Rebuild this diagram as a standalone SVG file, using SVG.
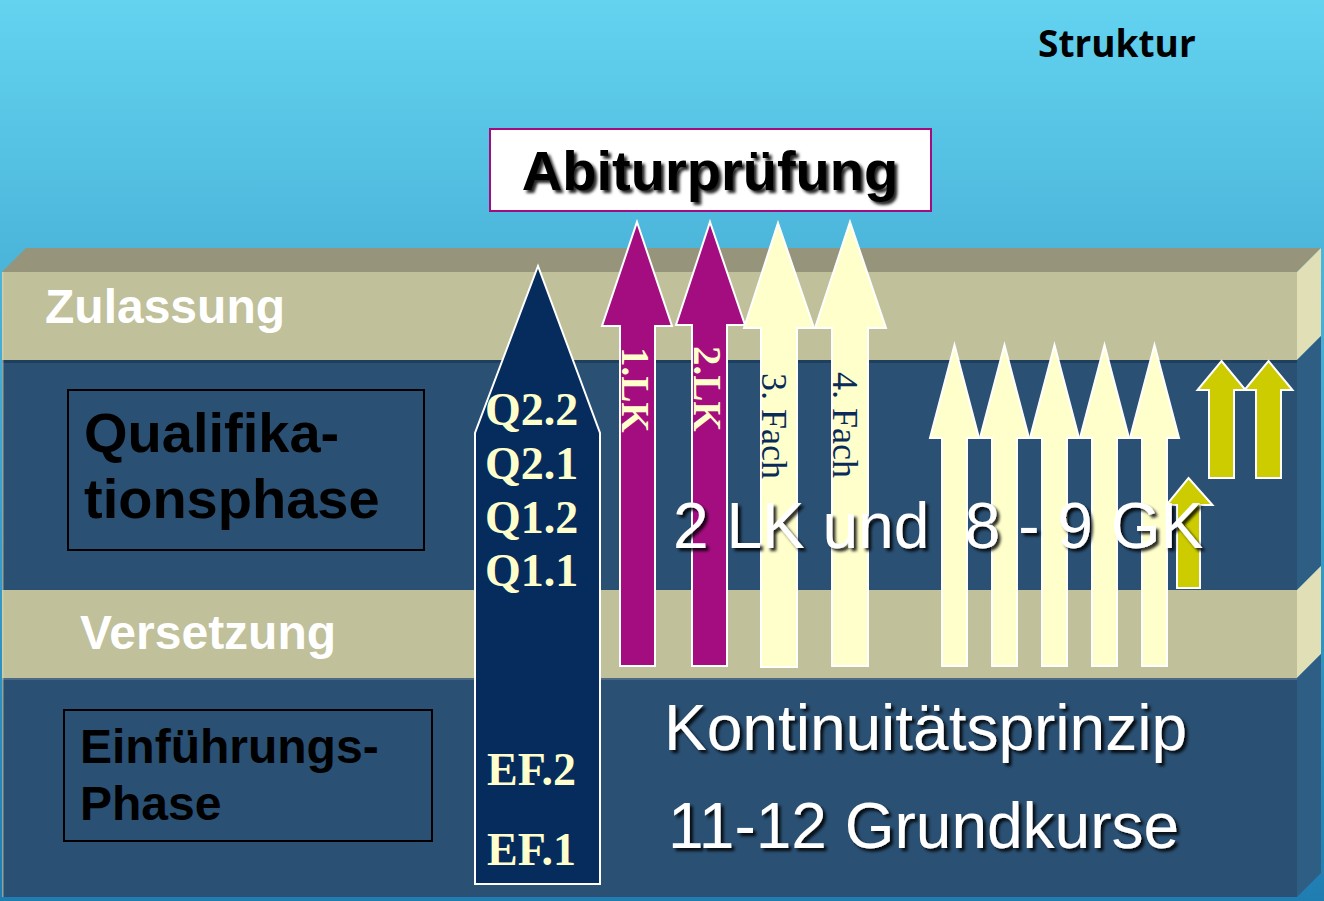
<svg xmlns="http://www.w3.org/2000/svg" width="1324" height="901" viewBox="0 0 1324 901">
<defs>
<linearGradient id="sky" x1="0" y1="0" x2="0" y2="1">
<stop offset="0" stop-color="#63d3f0"/>
<stop offset="0.3" stop-color="#4bb4d9"/>
<stop offset="1" stop-color="#1f7db2"/>
</linearGradient>
<filter id="shadow" x="-10%" y="-20%" width="120%" height="150%">
<feDropShadow dx="3" dy="3" stdDeviation="1.5" flood-color="#000" flood-opacity="0.85"/>
</filter>
<style>
.band{fill:#c0c09a}
.blue{fill:#2a5073}
.sideK{fill:#e0dfb5}
.sideB{fill:#2f5e84}
.box{fill:none;stroke:#000;stroke-width:2}
.lbl{font-family:"Liberation Sans",Arial,sans-serif;font-weight:bold}
.big{font-family:"Liberation Sans",Arial,sans-serif;fill:#fff;font-size:64px;filter:url(#shadow);white-space:pre}
.tm{font-family:"Liberation Serif","Times New Roman",serif}
.arr{stroke:#fff;stroke-width:2;stroke-linejoin:miter}
.lk{fill:#a30d80}
.ly{fill:#ffffcc}
.yg{fill:#cccc00}
.q{font-family:"Liberation Serif","Times New Roman",serif;font-weight:bold;font-size:46px;fill:#ffffcc}
</style>
</defs>
<rect width="1324" height="901" fill="url(#sky)"/>

<g id="slab">
<polygon points="2,272 26,248 1321,248 1297,272" fill="#96947a"/>
<rect x="2" y="272" width="1295" height="88" class="band"/>
<rect x="2" y="360" width="1295" height="230" class="blue"/>
<rect x="2" y="360" width="1295" height="3" fill="#1f3f5e"/>
<rect x="2" y="590" width="1295" height="88" class="band"/>
<rect x="2" y="678" width="1295" height="219" class="blue"/>
<rect x="2" y="678" width="1295" height="2" fill="#4b6a85"/>
<polygon points="1297,272 1321,248 1321,336 1297,360" class="sideK"/>
<polygon points="1297,360 1321,336 1321,566 1297,590" class="sideB"/>
<polygon points="1297,590 1321,566 1321,654 1297,678" class="sideK"/>
<polygon points="1297,678 1321,654 1321,873 1297,897" class="sideB"/>
<rect x="2" y="272" width="1.5" height="625" fill="#d8d8b8" opacity="0.6"/>
</g>

<g id="title">
<text x="1038" y="57" font-family="'Open Sans','Noto Sans',sans-serif" font-weight="bold" font-size="37" fill="#000">Struktur</text>
</g>

<g id="abitur">
<rect x="490" y="129" width="441" height="82" fill="#fff" stroke="#a30d80" stroke-width="2"/>
<text x="710" y="190" text-anchor="middle" class="lbl" font-size="56" fill="#000" filter="url(#shadow)">Abiturprüfung</text>
</g>

<g id="zulassung">
<text x="45" y="323" class="lbl" font-size="48" fill="#fff">Zulassung</text>
</g>
<g id="versetzung">
<text x="80" y="649" class="lbl" font-size="48" fill="#fff">Versetzung</text>
</g>

<g id="qualifikation">
<rect x="68" y="390" width="356" height="160" class="box"/>
<text class="lbl" font-size="56" fill="#000"><tspan x="84" y="452">Qualifika-</tspan><tspan x="84" y="518">tionsphase</tspan></text>
</g>

<g id="einfuehrung">
<rect x="64" y="710" width="368" height="131" class="box"/>
<text class="lbl" font-size="48" fill="#000"><tspan x="80" y="763">Einführungs-</tspan><tspan x="80" y="820">Phase</tspan></text>
</g>

<g id="connectors">
<g id="navy-arrow">
<polygon points="538,266 600,433 600,884 475,884 475,433" fill="#052c5c" class="arr"/>
<text class="q"><tspan x="485" y="425">Q2.2</tspan><tspan x="485" y="479">Q2.1</tspan><tspan x="485" y="533">Q1.2</tspan><tspan x="485" y="586">Q1.1</tspan><tspan x="487" y="785">EF.2</tspan><tspan x="487" y="865">EF.1</tspan></text>
</g>
<g id="lk1">
<polygon points="637,222 672,326 655,326 655,666 620,666 620,326 602,326" class="arr lk"/>
<text transform="translate(622,347) rotate(90)" class="tm" font-weight="bold" font-size="39" fill="#ffffcc">1.LK</text>
</g>
<g id="lk2">
<polygon points="710,222 745,325 727,325 727,666 692,666 692,325 676,325" class="arr lk"/>
<text transform="translate(694,346) rotate(90)" class="tm" font-weight="bold" font-size="39" fill="#ffffcc">2.LK</text>
</g>
<g id="fach3">
<polygon points="778,223 814,328 797,328 797,667 761,667 761,328 744,328" class="arr ly"/>
<text transform="translate(762,373) rotate(90)" class="tm" font-size="36" fill="#0a2a5a">3. Fach</text>
</g>
<g id="fach4">
<polygon points="850,222 886,328 868,328 868,666 832,666 832,328 815,328" class="arr ly"/>
<text transform="translate(833,372) rotate(90)" class="tm" font-size="36" fill="#0a2a5a">4. Fach</text>
</g>
<g id="gk-arrows">
<polygon points="954.5,345 979,438 967,438 967,666 942,666 942,438 930,438" class="arr ly"/>
<polygon points="1004.5,345 1029,438 1017,438 1017,666 992,666 992,438 980,438" class="arr ly"/>
<polygon points="1054.5,345 1079,438 1067,438 1067,666 1042,666 1042,438 1030,438" class="arr ly"/>
<polygon points="1104.5,345 1129,438 1117,438 1117,666 1092,666 1092,438 1080,438" class="arr ly"/>
<polygon points="1154.5,345 1179,438 1167,438 1167,666 1142,666 1142,438 1130,438" class="arr ly"/>
</g>
<g id="yg-arrows">
<polygon points="1221.5,361 1245.5,390 1234,390 1234,478 1209,478 1209,390 1197.5,390" class="arr yg"/>
<polygon points="1268.5,361 1292.5,390 1281,390 1281,478 1256,478 1256,390 1244.5,390" class="arr yg"/>
<polygon points="1188.5,478 1212.5,505 1200,505 1200,588 1177,588 1177,505 1166.5,505" class="arr yg"/>
</g>
</g>

<g id="texts">
<text x="673" y="548" class="big">2 LK und  8 - 9 GK</text>
<text x="664" y="750" class="big">Kontinuitätsprinzip</text>
<text x="668" y="848" class="big">11-12 Grundkurse</text>
</g>
</svg>
